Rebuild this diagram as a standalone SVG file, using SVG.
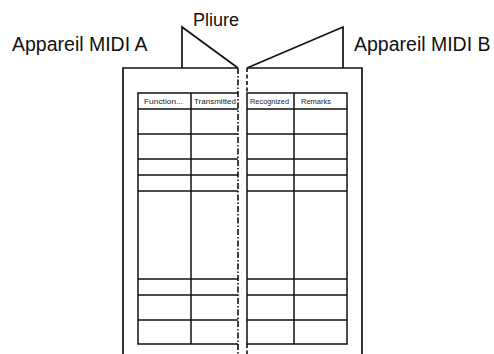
<svg xmlns="http://www.w3.org/2000/svg" width="494" height="354" viewBox="0 0 494 354">
  <style>
    .label { font-family: "Liberation Sans", Arial, sans-serif; font-size: 19.5px; fill: #111; }
    .fold-label { font-family: "Liberation Sans", Arial, sans-serif; font-size: 18px; fill: #111; }
    .head { font-family: "Liberation Sans", Arial, sans-serif; font-size: 8px; fill: #1a1a1a; }
    .edge { fill: none; stroke: #111; stroke-width: 1.7; }
    .fold-a { fill: none; stroke: #111; stroke-width: 1.6; stroke-dasharray: 6 2 1.5 2; }
    .fold-b { fill: none; stroke: #111; stroke-width: 1.6; stroke-dasharray: 4 2.5; }
    .grid { fill: none; stroke: #111; stroke-width: 1.5; }
  </style>
  <rect width="494" height="354" fill="#fff"/>

  <!-- captions -->
  <g id="labels">
    <text class="fold-label" x="193" y="26">Pliure</text>
    <text class="label" x="12" y="51">Appareil MIDI A</text>
    <text class="label" x="354" y="51">Appareil MIDI B</text>
  </g>

  <!-- left sheet (device A) with its fold flap -->
  <g id="sheet-a">
    <path class="edge" d="M123,354 V68 H238"/>
    <path class="edge" d="M182,68 V27 L238,68"/>
    <path class="fold-a" d="M238,68 V354"/>
  </g>

  <!-- right sheet (device B) with its fold flap -->
  <g id="sheet-b">
    <path class="edge" d="M247,68 H362 V354"/>
    <path class="edge" d="M247,68 L343,27 V68"/>
    <path class="fold-b" d="M247,68 V93"/>
    <path class="fold-b" d="M247,344 V354"/>
  </g>

  <!-- implementation chart, left half -->
  <g id="chart-a">
    <path class="grid" d="M238,93 H138 V344 H238"/>
    <path class="grid" d="M191,93 V344"/>
    <path class="grid" d="M138,109 H238 M138,134 H238 M138,159 H238 M138,175 H238 M138,191 H238 M138,279 H238 M138,295 H238 M138,320 H238"/>
    <text class="head" x="144" y="104" textLength="39" lengthAdjust="spacingAndGlyphs">Function...</text>
    <text class="head" x="194" y="104" textLength="42" lengthAdjust="spacingAndGlyphs">Transmitted</text>
  </g>

  <!-- implementation chart, right half -->
  <g id="chart-b">
    <path class="grid" d="M247,93 H347 V344 H247 Z"/>
    <path class="grid" d="M294,93 V344"/>
    <path class="grid" d="M247,109 H347 M247,134 H347 M247,159 H347 M247,175 H347 M247,191 H347 M247,279 H347 M247,295 H347 M247,320 H347"/>
    <text class="head" x="250" y="104" textLength="39" lengthAdjust="spacingAndGlyphs">Recognized</text>
    <text class="head" x="301" y="104" textLength="30" lengthAdjust="spacingAndGlyphs">Remarks</text>
  </g>
</svg>
